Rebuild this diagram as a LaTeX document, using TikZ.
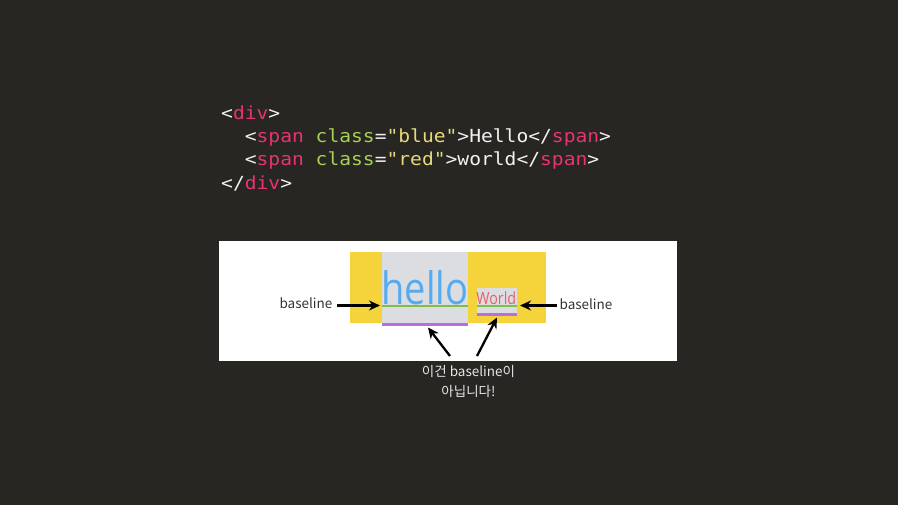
\documentclass[tikz,border=0pt]{standalone}
\usepackage{fontspec}
\setmainfont{Noto Sans CJK KR}
\newfontfamily\codefont[FakeStretch=1.09]{DejaVu Sans Mono}
\newfontfamily\webfont[FakeStretch=0.85]{Open Sans}
\usetikzlibrary{arrows.meta}
\definecolor{bg}{HTML}{272622}
\definecolor{tagpink}{HTML}{E8336F}
\definecolor{attrgreen}{HTML}{A6D152}
\definecolor{stryellow}{HTML}{E6D97A}
\definecolor{codewhite}{HTML}{F2F2F0}
\definecolor{boxyellow}{HTML}{F5D33B}
\definecolor{boxgrey}{HTML}{DCDDE0}
\definecolor{helloblue}{HTML}{56AAF0}
\definecolor{worldred}{HTML}{E8606E}
\definecolor{lineGreen}{HTML}{7CC04A}
\definecolor{linePurple}{HTML}{B86EE0}
\definecolor{labelgrey}{HTML}{333333}
\definecolor{notegrey}{HTML}{E6E6E6}
\newcommand{\tg}[1]{\textcolor{codewhite}{#1}}
\newcommand{\kw}[1]{\textcolor{tagpink}{#1}}
\newcommand{\at}[1]{\textcolor{attrgreen}{#1}}
\newcommand{\st}[1]{\textcolor{stryellow}{#1}}
\tikzset{
  codeline/.style={anchor=base west, inner sep=0pt, font=\codefont\fontsize{18}{22}\selectfont, text=codewhite},
  blabel/.style={inner sep=0pt, font=\fontsize{13.5}{16}\selectfont, text=labelgrey},
  arr/.style={line width=2.3pt, -{Stealth[length=11pt,width=10pt]}, black},
}
\begin{document}
\begin{tikzpicture}[x=1pt,y=-1pt]
\fill[bg] (0,0) rectangle (898,505);
\useasboundingbox (0,0) rectangle (898,505);

% code
\node[codeline] (l1) at (221,119.5) {\tg{<}\kw{div}\tg{>}};
\node[codeline] (l2) at (221,142.8) {\tg{~~<}\kw{span} \at{class}\tg{=}\st{"blue"}\tg{>Hello</}\kw{span}\tg{>}};
\node[codeline] (l3) at (221,166) {\tg{~~<}\kw{span} \at{class}\tg{=}\st{"red"}\tg{>world</}\kw{span}\tg{>}};
\node[codeline] (l4) at (221,189.3) {\tg{</}\kw{div}\tg{>}};

% white panel
\fill[white] (219,241) rectangle (677,361);
% yellow div
\fill[boxyellow] (350,252) rectangle (546,322.8);
% hello span
\fill[boxgrey] (382,252) rectangle (468,322.8);
\fill[lineGreen] (382,304.8) rectangle (468,307.3);
\fill[linePurple] (382,323.2) rectangle (468,325.8);
\node[anchor=base, inner sep=0pt, text=helloblue, font=\webfont\fontsize{44.7}{50}\selectfont] (hello) at (425,304.5) {hello};
% world span
\fill[boxgrey] (476.5,288.5) rectangle (516.5,313.3);
\fill[lineGreen] (476.5,304.8) rectangle (516.5,307.2);
\fill[linePurple] (476.5,313.3) rectangle (516.5,315.8);
\node[anchor=base, inner sep=0pt, text=worldred, font=\webfont\fontsize{16.8}{20}\selectfont] (world) at (496.3,304.5) {World};

% labels
\node[blabel, anchor=base] (bl) at (306,308.5) {baseline};
\node[blabel, anchor=base] (br) at (586,309.5) {baseline};
\coordinate (blstart) at (337,305.5);
\coordinate (blend) at (380,305.5);
\coordinate (brstart) at (557,305.5);
\coordinate (brend) at (520,305.5);
\draw[arr] (blstart) -- (blend);
\draw[arr] (brstart) -- (brend);

% note
\node[inner sep=0pt, align=center, text=notegrey, font=\fontsize{13.5}{19.5}\selectfont] (note) at (468.5,381.5) {이건 baseline이\\아닙니다!};
\coordinate (n1s) at (450,356);
\coordinate (n1e) at (428,327.5);
\coordinate (n2s) at (477,356);
\coordinate (n2e) at (497,317.5);
\draw[arr] (n1s) -- (n1e);
\draw[arr] (n2s) -- (n2e);
\end{tikzpicture}
\end{document}
